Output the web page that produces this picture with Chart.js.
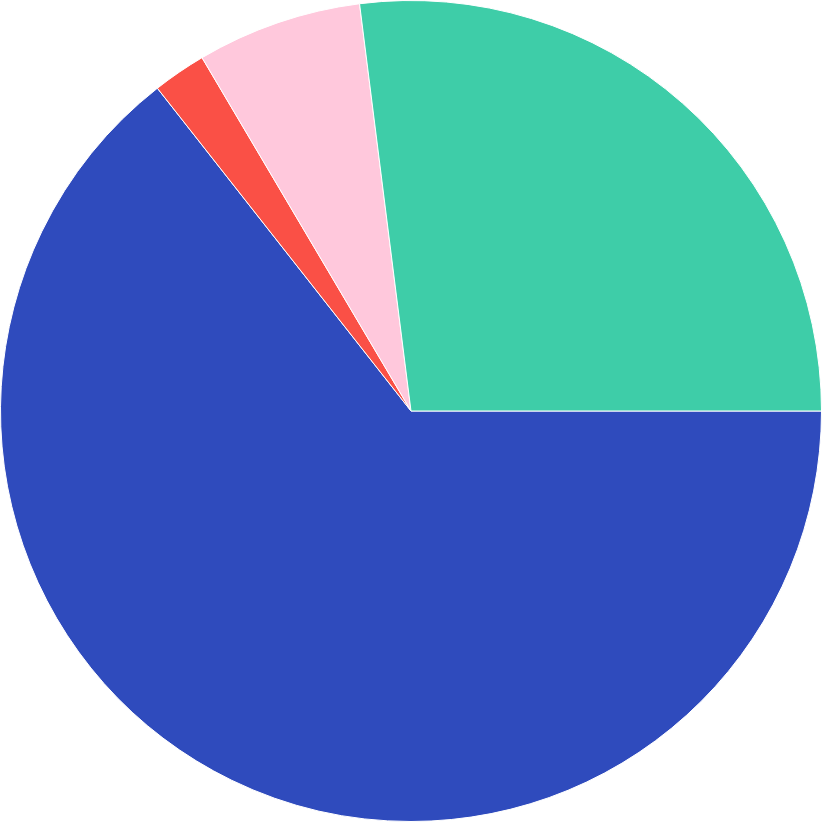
<!DOCTYPE html>
<html>
<head>
<meta charset="utf-8">
<script src="https://cdn.jsdelivr.net/npm/chart.js@4/dist/chart.umd.min.js"></script>
<style>
html,body{margin:0;padding:0;background:#fff;overflow:hidden;}
#wrap{width:822px;height:822px;position:relative;}
</style>
</head>
<body>
<div id="wrap"><canvas id="c" width="822" height="822"></canvas></div>
<script>
const categories = ["A", "B", "C", "D"];
const values = [64.4, 2.1, 6.5, 27.0];
const colors = ["#2F4BBD", "#FA5046", "#FFC8DC", "#3ECDA8"];

new Chart(document.getElementById('c'), {
  type: 'pie',
  data: {
    labels: categories,
    datasets: [{
      data: values,
      backgroundColor: colors,
      borderColor: '#ffffff',
      borderWidth: 1
    }]
  },
  options: {
    responsive: false,
    animation: false,
    rotation: 90,
    layout: { padding: 0 },
    plugins: { legend: { display: false }, tooltip: { enabled: false } }
  }
});
</script>
</body>
</html>
